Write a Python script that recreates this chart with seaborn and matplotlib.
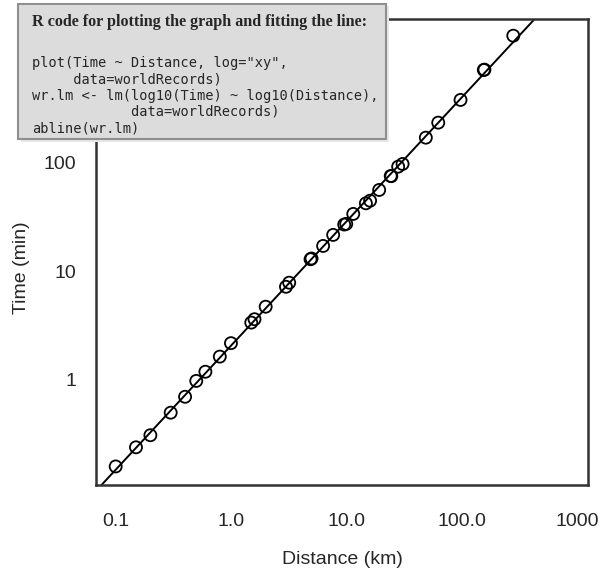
import numpy as np
import pandas as pd
import seaborn as sns
import matplotlib.pyplot as plt
from matplotlib.patches import Rectangle

# world record distances (km) and times (min)
distance = [0.1, 0.15, 0.2, 0.3, 0.4, 0.5, 0.6, 0.8, 1.0, 1.5, 1.6, 2.0,
            3.0, 3.2, 4.9, 5.0, 6.3, 7.7, 9.6, 10.0, 11.5, 14.8, 16.1,
            19.3, 24.3, 24.6, 28.2, 30.8, 49.0, 62.8, 98.0, 156.0, 158.0, 281.0]
time_min = [0.16, 0.24, 0.31, 0.50, 0.70, 0.98, 1.19, 1.64, 2.18, 3.37, 3.62, 4.72,
            7.2, 7.85, 12.9, 13.1, 17.1, 21.6, 26.9, 27.3, 33.7, 42.2, 44.6,
            56.0, 75.3, 75.0, 91.7, 97.1, 169.5, 233.0, 377.0, 711.0, 716.0, 1470.0]

xticks = [0.1, 1, 10, 100, 1000]
xticklabels = ["0.1", "1.0", "10.0", "100.0", "1000"]
yticks = [1, 10, 100]
yticklabels = ["1", "10", "100"]

code_title = "R code for plotting the graph and fitting the line:"
code_lines = ['plot(Time ~ Distance, log="xy",',
              '     data=worldRecords)',
              'wr.lm <- lm(log10(Time) ~ log10(Distance),',
              '            data=worldRecords)',
              'abline(wr.lm)']

worldRecords = pd.DataFrame({"Distance": distance, "Time": time_min})

sns.set_style("white")
plt.rcParams["font.family"] = ["Liberation Sans", "DejaVu Sans"]

W, H = 606, 574
fig = plt.figure(figsize=(W / 100, H / 100), dpi=100)
ax = fig.add_axes([96 / W, 1 - 485 / H, (588 - 96) / W, (485 - 19) / H])

sns.scatterplot(data=worldRecords, x="Distance", y="Time", ax=ax,
                marker="o", s=75, facecolor="none", edgecolor="black",
                linewidth=1.3, zorder=3)
ax.set_xscale("log")
ax.set_yscale("log")

# least squares line on log-log scale (abline(wr.lm))
b, a = np.polyfit(np.log10(distance), np.log10(time_min), 1)
ax.axline((1, 10 ** a), (100, 10 ** (a + 2 * b)), color="black", lw=1.4, zorder=2)

ax.set_xlim(0.0675, 1250)
ax.set_ylim(0.108, 2094)
ax.set_xticks(xticks)
ax.set_xticklabels(xticklabels)
ax.set_yticks(yticks)
ax.set_yticklabels(yticklabels)
ax.minorticks_off()
ax.tick_params(axis="x", length=9, width=1.5, pad=11, labelsize=14, color="#333333")
ax.tick_params(axis="y", length=10, width=1.5, pad=4, labelsize=14, color="#333333")
for sp in ax.spines.values():
    sp.set_linewidth(1.8)
    sp.set_color("#333333")

ax.set_xlabel("Distance (km)", fontsize=14)
ax.set_ylabel("Time (min)", fontsize=14)
ax.xaxis.set_label_coords(0.5, -(560 - 485) / 466, transform=ax.transAxes)
ax.yaxis.set_label_coords(-(96 - 22) / 492, 1 - (268 - 19) / 466)
ax.xaxis.label.set_va("center")
ax.yaxis.label.set_va("center")

# grey box with the R code
fig.patches.append(Rectangle((21 / W, 1 - 142 / H), 368 / W, 136 / H,
                             transform=fig.transFigure, facecolor="#e8e8e8",
                             edgecolor="none", zorder=9))
fig.patches.append(Rectangle((18 / W, 1 - 139 / H), 368 / W, 135 / H,
                             transform=fig.transFigure, facecolor="#dcdcdc",
                             edgecolor="#8f8f8f", linewidth=1.5, zorder=10))
fig.text(32 / W, 1 - 22 / H, code_title, fontsize=11.6, fontweight="bold",
         family="Liberation Serif", va="center", ha="left", zorder=11)
for i, line in enumerate(code_lines):
    fig.text(32 / W, 1 - (63 + i * 16.3) / H, line, fontsize=9.8,
             family="DejaVu Sans Mono", va="center", ha="left", zorder=11)

fig.savefig("out.png", dpi=100)
